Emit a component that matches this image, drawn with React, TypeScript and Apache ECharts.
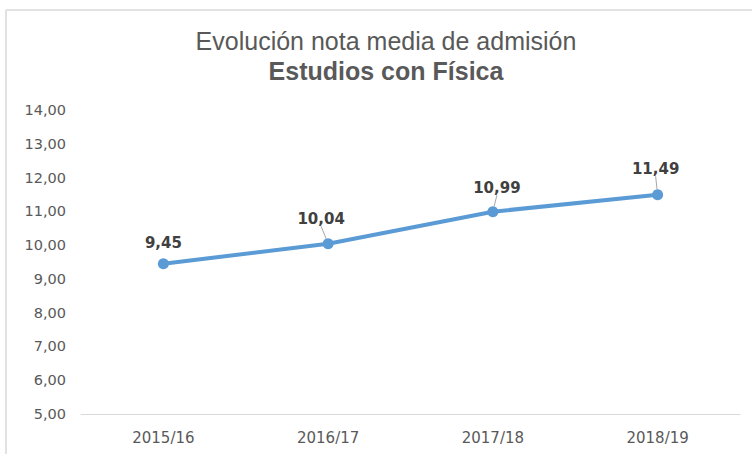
import React, { useEffect, useRef } from "react";
import * as echarts from "echarts";

const categories = ["2015/16", "2016/17", "2017/18", "2018/19"];
const values = [9.45, 10.04, 10.99, 11.49];
const titleLine1 = "Evolución nota media de admisión";
const titleLine2 = "Estudios con Física";
const labelShifts = [
  [0, 0],
  [-7, -4],
  [4, -3],
  [-2, -5],
];

const fmt = (v: number) => v.toFixed(2).replace(".", ",");

export default function App() {
  const ref = useRef<HTMLDivElement>(null);
  useEffect(() => {
    if (!ref.current) return;
    const chart = echarts.init(ref.current, undefined, { renderer: "svg" });
    chart.setOption({
      animation: false,
      backgroundColor: "#ffffff",
      graphic: [
        { type: "line", shape: { x1: 6, y1: 10, x2: 752, y2: 10 }, style: { stroke: "#d9d9d9", lineWidth: 1.5 } },
        { type: "line", shape: { x1: 6, y1: 10, x2: 6, y2: 454 }, style: { stroke: "#d9d9d9", lineWidth: 1.5 } },
        {
          type: "text",
          x: 386,
          y: 41,
          style: {
            text: titleLine1,
            textAlign: "center",
            textVerticalAlign: "middle",
            fontFamily: "Liberation Sans",
            fontSize: 25,
            fontWeight: "normal",
            fill: "#595959",
          },
        },
        {
          type: "text",
          x: 386,
          y: 71,
          style: {
            text: titleLine2,
            textAlign: "center",
            textVerticalAlign: "middle",
            fontFamily: "Liberation Sans",
            fontSize: 25,
            fontWeight: "bold",
            fill: "#595959",
          },
        },
      ],
      grid: { left: 81, right: 12, top: 110, bottom: 40, containLabel: false },
      xAxis: {
        type: "category",
        data: categories,
        boundaryGap: true,
        axisLine: { lineStyle: { color: "#d9d9d9", width: 1 } },
        axisTick: { show: false },
        axisLabel: { fontFamily: "DejaVu Sans", fontSize: 15, color: "#595959", margin: 16 },
      },
      yAxis: {
        type: "value",
        min: 5,
        max: 14,
        interval: 1,
        axisLine: { show: false },
        axisTick: { show: false },
        splitLine: { show: false },
        axisLabel: {
          fontFamily: "DejaVu Sans",
          fontSize: 14.5,
          color: "#595959",
          margin: 15,
          formatter: (v: number) => fmt(v),
        },
      },
      series: [
        {
          type: "line",
          data: values.map((v, i) => (i === 0 ? { value: v, labelLine: { show: false } } : v)),
          symbol: "circle",
          symbolSize: 11,
          lineStyle: { color: "#5b9bd5", width: 4 },
          itemStyle: { color: "#5b9bd5" },
          label: {
            show: true,
            position: "top",
            distance: 8,
            fontFamily: "DejaVu Sans",
            fontSize: 15,
            fontWeight: "bold",
            color: "#404040",
            formatter: (p: any) => fmt(p.value),
          },
          labelLine: { show: true, lineStyle: { color: "#a6a6a6", width: 1 } },
          labelLayout: (p: any) => ({ dx: labelShifts[p.dataIndex][0], dy: labelShifts[p.dataIndex][1] }),
        },
      ],
    });
    return () => chart.dispose();
  }, []);
  return <div ref={ref} style={{ position: "fixed", left: 0, top: 0, width: 752, height: 454 }} />;
}
